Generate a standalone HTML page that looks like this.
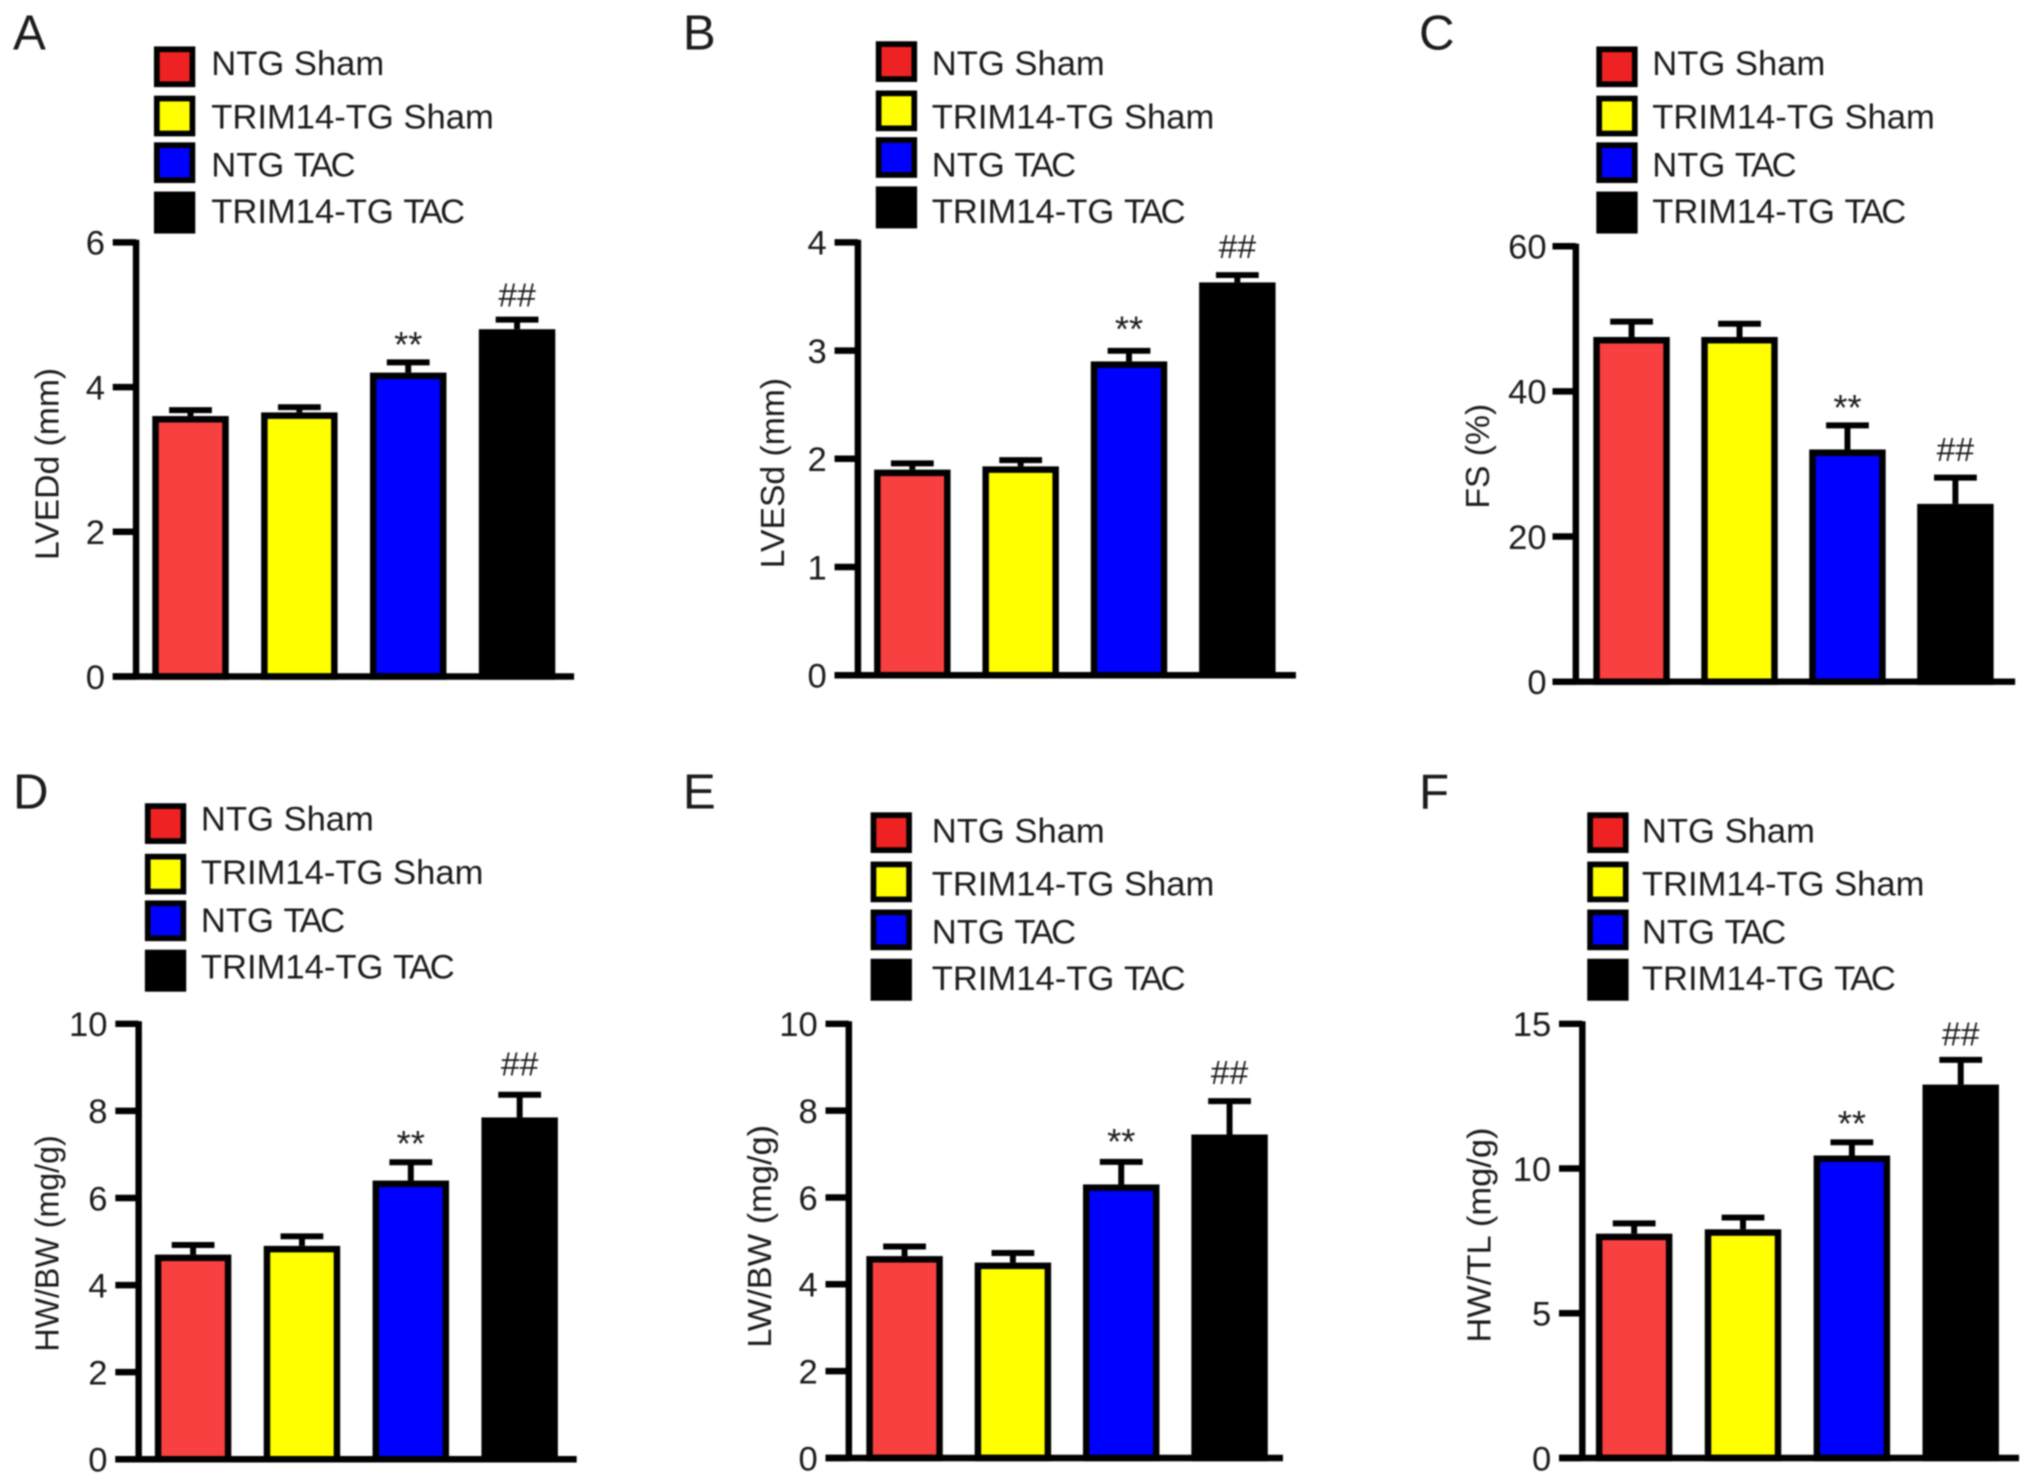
<!DOCTYPE html>
<html>
<head>
<meta charset="utf-8">
<title>TRIM14 cardiac function panels</title>
<style>
html,body{margin:0;padding:0;background:#fff;width:2032px;height:1483px;overflow:hidden}
svg{display:block;filter:blur(0.8px)}
text{font-family:"Liberation Sans",sans-serif;fill:#1c1c1c}
</style>
</head>
<body>
<svg id="figure" xmlns="http://www.w3.org/2000/svg" width="2032" height="1483" viewBox="0 0 1568 1144.3"></svg>
<script>
const categories = ["NTG Sham", "TRIM14-TG Sham", "NTG TAC", "TRIM14-TG TAC"];

const valuesA = [3.6, 3.65, 4.2, 4.8];
const errorTopsA = [3.7, 3.74, 4.36, 4.95];
const ticksA = [0, 2, 4, 6];

const valuesB = [1.9, 1.93, 2.9, 3.63];
const errorTopsB = [1.97, 2.0, 3.01, 3.71];
const ticksB = [0, 1, 2, 3, 4];

const valuesC = [47.5, 47.5, 32, 24.5];
const errorTopsC = [49.8, 49.5, 35.5, 28.3];
const ticksC = [0, 20, 40, 60];

const valuesD = [4.7, 4.9, 6.4, 7.85];
const errorTopsD = [4.95, 5.15, 6.85, 8.4];
const ticksD = [0, 2, 4, 6, 8, 10];

const valuesE = [4.65, 4.5, 6.3, 7.45];
const errorTopsE = [4.9, 4.75, 6.85, 8.25];
const ticksE = [0, 2, 4, 6, 8, 10];

const valuesF = [7.75, 7.9, 10.45, 12.9];
const errorTopsF = [8.15, 8.35, 10.95, 13.8];
const ticksF = [0, 5, 10, 15];

const annotations = ["", "", "**", "##"];

const NS = "http://www.w3.org/2000/svg";
const figure = document.getElementById("figure");
const barFills = ["#f94040", "#ffff00", "#0000ff", "#000000"];
const legendFills = ["#ee2222", "#ffff00", "#0000ff", "#000000"];

const panels = [
  {id:"a", letter:"A", letterX:10, letterY:38, title:"LVEDd (mm)", titleX:45, titleY:358, values:valuesA, tops:errorTopsA, ticks:ticksA, tickGap:24, starGap:3, hashGap:9,
   axisX:105, yTop:187, y0:522, axisEnd:443, barLeft:117.5, step:84, legX:119, legTextX:163, legY:[36,74,110,148], legBase:[58,99,136,172]},
  {id:"b", letter:"B", letterX:527, letterY:38, title:"LVESd (mm)", titleX:605, titleY:365, values:valuesB, tops:errorTopsB, ticks:ticksB, tickGap:24, starGap:6, hashGap:12,
   axisX:662, yTop:187, y0:521, axisEnd:1000, barLeft:674.5, step:83.6, legX:676, legTextX:719, legY:[32,70,106,144], legBase:[58,99,136,172]},
  {id:"c", letter:"C", letterX:1095, letterY:38, title:"FS (%)", titleX:1149, titleY:352, values:valuesC, tops:errorTopsC, ticks:ticksC, tickGap:22.5, starGap:3, hashGap:12,
   axisX:1216, yTop:190, y0:526, axisEnd:1555, barLeft:1229.5, step:83.3, legX:1232, legTextX:1275, legY:[36,74,110,148], legBase:[58,99,136,172]},
  {id:"d", letter:"D", letterX:10, letterY:624, title:"HW/BW (mg/g)", titleX:45, titleY:959.5, titleLen:167, values:valuesD, tops:errorTopsD, ticks:ticksD, tickGap:24, starGap:4, hashGap:14,
   axisX:107, yTop:790, y0:1126, axisEnd:445, barLeft:119.5, step:84, legX:112, legTextX:155, legY:[620,659,695,733], legBase:[641,682,719,755]},
  {id:"e", letter:"E", letterX:527, letterY:624, title:"LW/BW (mg/g)", titleX:595, titleY:954, titleLen:172, values:valuesE, tops:errorTopsE, ticks:ticksE, tickGap:24, starGap:5, hashGap:12,
   axisX:655, yTop:790, y0:1125, axisEnd:990, barLeft:668.5, step:83.6, legX:672, legTextX:719, legY:[627,665,702,740], legBase:[650,691,728,764]},
  {id:"f", letter:"F", letterX:1095, letterY:624, title:"HW/TL (mg/g)", titleX:1150, titleY:953, titleLen:166, values:valuesF, tops:errorTopsF, ticks:ticksF, tickGap:24, starGap:4, hashGap:10,
   axisX:1221, yTop:790, y0:1125, axisEnd:1558, barLeft:1231.5, step:84, legX:1225, legTextX:1267, legY:[627,665,702,740], legBase:[650,691,728,764]}
];

function make(tag, attrs, parent, content) {
  const node = document.createElementNS(NS, tag);
  for (const key in attrs) node.setAttribute(key, attrs[key]);
  if (content !== undefined) node.textContent = content;
  parent.appendChild(node);
  return node;
}

function slug(s) {
  return s.toLowerCase().replace(/[^a-z0-9]+/g, "-");
}

panels.forEach(function (p) {
  const maxTick = Math.max.apply(null, p.ticks);
  const yScale = function (v) { return p.y0 - (v / maxTick) * (p.y0 - p.yTop); };
  const xBand = function (i) { return p.barLeft + i * p.step; };
  const barW = 59;
  const g = make("g", {}, figure);
  
  

  const letter = make("text", {x:p.letterX, y:p.letterY, "font-size":38}, g, p.letter);
  
  

  categories.forEach(function (cat, i) {
    const swatch = make("rect", {x:p.legX + 2, y:p.legY[i] + 2, width:27.5, height:i === 3 ? 28 : 27, fill:legendFills[i], stroke:"#000", "stroke-width":4.4}, g);
    
    
    const label = make("text", {x:p.legTextX, y:p.legBase[i], "font-size":26.7}, g);
    
    
    if (cat.endsWith("TAC")) {
      make("tspan", {}, label, cat.slice(0, -3));
      make("tspan", {"letter-spacing":-1.9}, label, "TAC");
    } else {
      label.textContent = cat;
    }
  });

  p.values.forEach(function (v, i) {
    const cx = xBand(i) + barW / 2;
    const top = yScale(v);
    const errTop = yScale(p.tops[i]);

    const stem = make("line", {x1:cx, x2:cx, y1:top, y2:errTop + 1, stroke:"#000", "stroke-width":4.6}, g);
    
    
    const cap = make("line", {x1:cx - 16.5, x2:cx + 16.5, y1:errTop + 1, y2:errTop + 1, stroke:"#000", "stroke-width":4.6}, g);
    
    

    const bar = make("rect", {x:xBand(i) + 2.5, y:top + 2.5, width:barW - 5, height:p.y0 - top - 2.5, fill:barFills[i], stroke:"#000", "stroke-width":5}, g);
    
    

    if (annotations[i]) {
      const isStar = annotations[i] === "**";
      const mark = make("text", {x:cx, y:errTop - (isStar ? p.starGap : p.hashGap), "font-size":isStar ? 28 : 26, "text-anchor":"middle"}, g, annotations[i]);
      
      
    }
  });

  const yAxis = make("line", {x1:p.axisX, x2:p.axisX, y1:p.yTop - 2, y2:p.y0, stroke:"#000", "stroke-width":5}, g);
  
  
  const xAxis = make("line", {x1:p.axisX - 18, x2:p.axisEnd, y1:p.y0, y2:p.y0, stroke:"#000", "stroke-width":5}, g);
  
  

  p.ticks.forEach(function (t) {
    const ty = yScale(t);
    const tick = make("line", {x1:p.axisX - 18, x2:p.axisX, y1:ty, y2:ty, stroke:"#000", "stroke-width":5}, g);
    
    
    const tl = make("text", {x:p.axisX - p.tickGap, y:ty + 9.5, "font-size":26.7, "text-anchor":"end"}, g, String(t));
    
    
  });

  const titleAttrs = {x:p.titleX, y:p.titleY, "font-size":26, "text-anchor":"middle", transform:"rotate(-90 " + p.titleX + " " + p.titleY + ")"};
  if (p.titleLen) {
    titleAttrs.textLength = p.titleLen;
    titleAttrs.lengthAdjust = "spacingAndGlyphs";
  }
  const title = make("text", titleAttrs, g, p.title);
  
  
});
</script>
</body>
</html>
